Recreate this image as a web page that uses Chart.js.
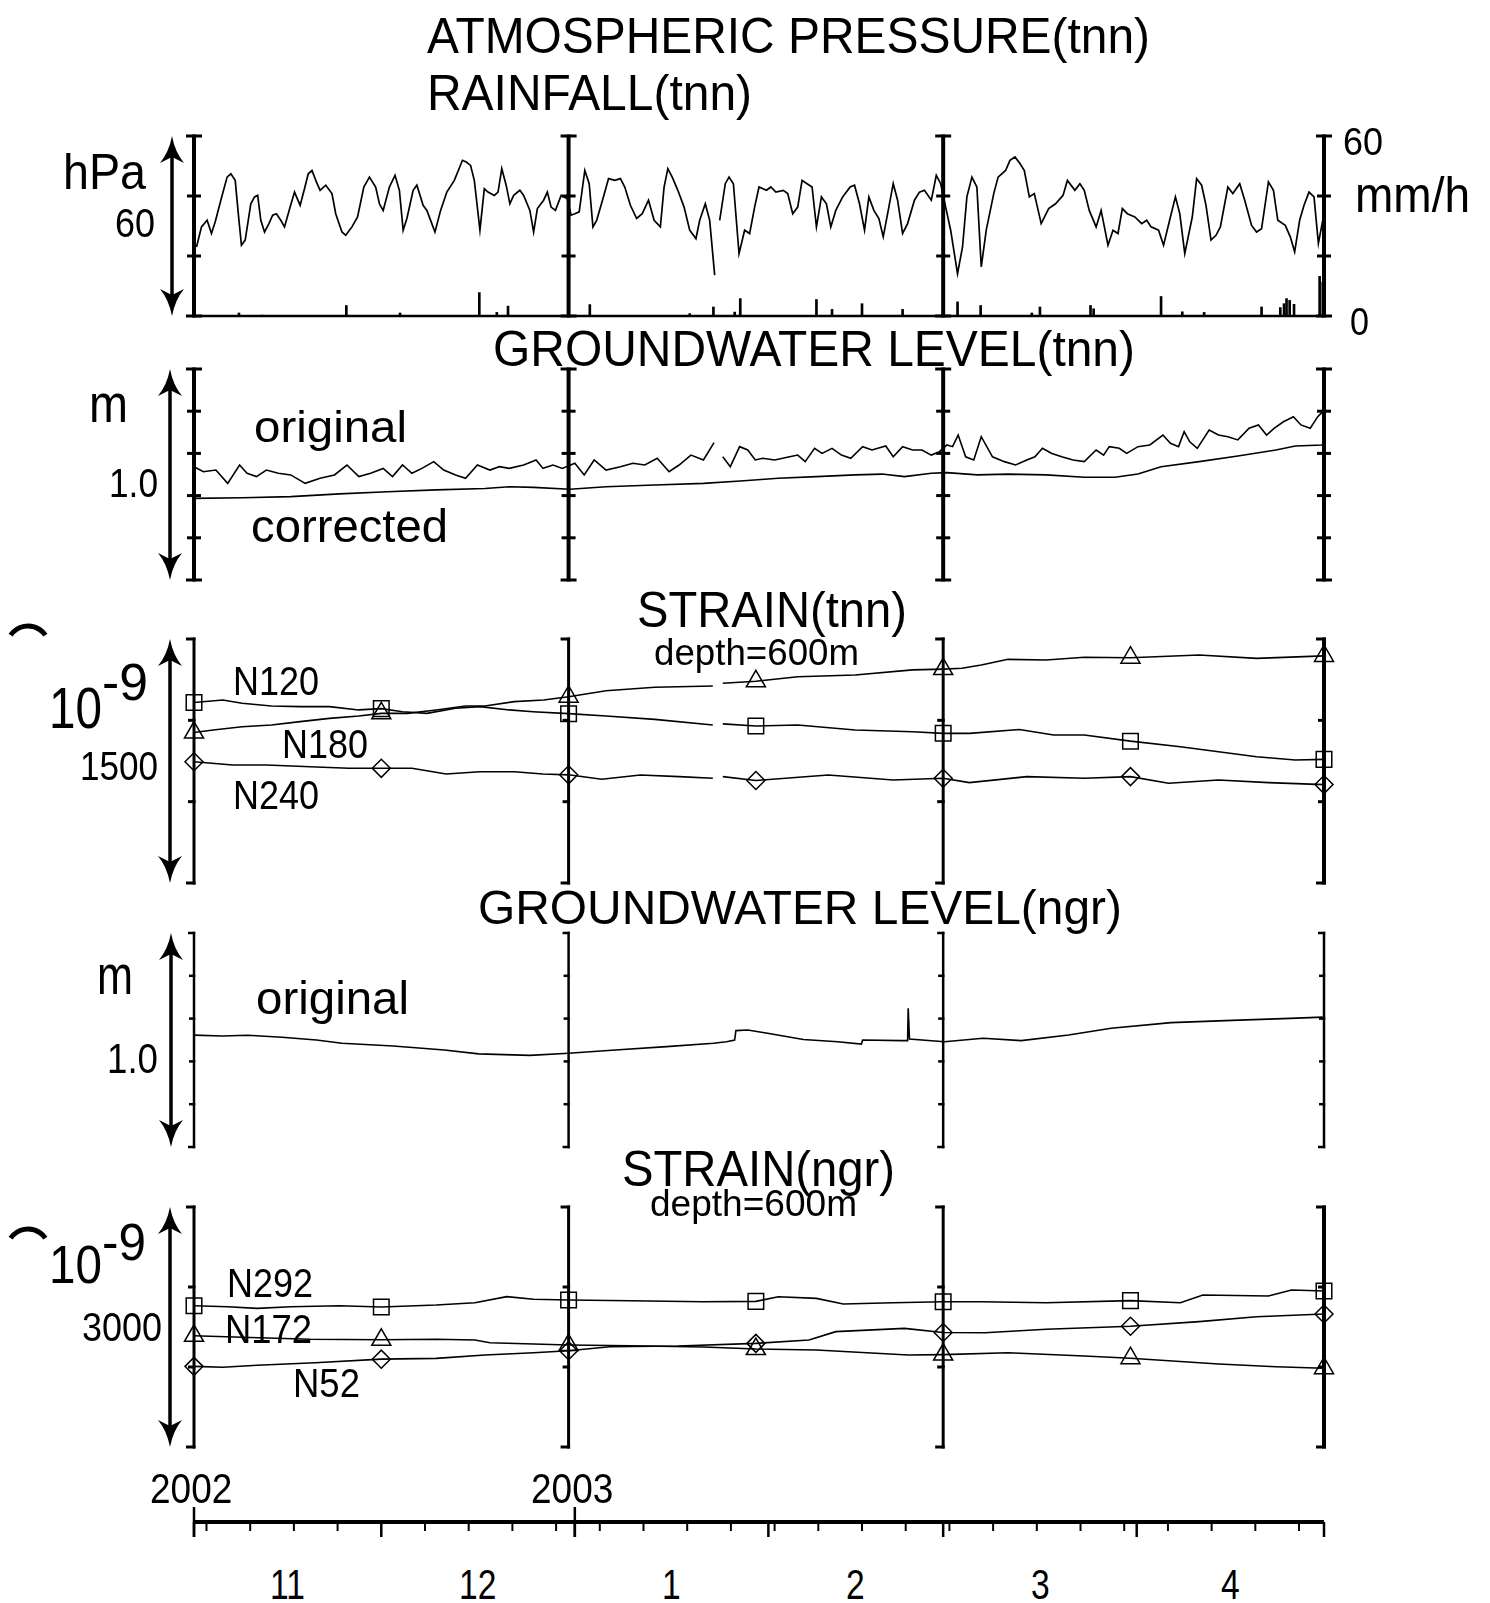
<!DOCTYPE html>
<html>
<head>
<meta charset="utf-8">
<script src="https://cdn.jsdelivr.net/npm/chart.js@4.4.1/dist/chart.umd.min.js"></script>
<style>
html, body { margin: 0; padding: 0; background: #fff; }
#fig { position: relative; width: 1490px; height: 1603px; overflow: hidden; background: #fff; }
canvas { position: absolute; left: 0; }
.t { position: absolute; white-space: nowrap; line-height: 1; font-family: "Liberation Sans", Arial, sans-serif; color: #000; transform-origin: 0 0; }
</style>
</head>
<body>
<div id="fig">
  <canvas id="c1"></canvas>
  <canvas id="c2"></canvas>
  <canvas id="c3"></canvas>
  <canvas id="c4"></canvas>
  <canvas id="c5"></canvas>
  <canvas id="cAxis"></canvas>

  <div class="t" data-x="427" data-b="53" data-fs="50" data-w="723">ATMOSPHERIC PRESSURE(tnn)</div>
  <div class="t" data-x="427" data-b="110" data-fs="50" data-w="325">RAINFALL(tnn)</div>
  <div class="t" data-x="63" data-b="189" data-fs="50" data-w="83">hPa</div>
  <div class="t" data-x="115" data-b="237" data-fs="40" data-w="40">60</div>
  <div class="t" data-x="1343" data-b="155" data-fs="38" data-w="40">60</div>
  <div class="t" data-x="1355" data-b="212" data-fs="50" data-w="115">mm/h</div>
  <div class="t" data-x="1350" data-b="335" data-fs="38" data-w="19">0</div>

  <div class="t" data-x="493" data-b="366" data-fs="50" data-w="642">GROUNDWATER LEVEL(tnn)</div>
  <div class="t" data-x="89" data-b="422" data-fs="54" data-w="39">m</div>
  <div class="t" data-x="109" data-b="498" data-fs="41" data-w="49">1.0</div>
  <div class="t" data-x="254" data-b="442" data-fs="45" data-w="153">original</div>
  <div class="t" data-x="251" data-b="542" data-fs="46" data-w="197">corrected</div>

  <div class="t" data-x="637" data-b="627" data-fs="50" data-w="270">STRAIN(tnn)</div>
  <div class="t" data-x="654" data-b="665" data-fs="36" data-w="205">depth=600m</div>
  <div class="t" data-x="49" data-b="728" data-fs="57" data-w="53">10</div>
  <div class="t" data-x="102" data-b="700" data-fs="52" data-w="46">-9</div>
  <div class="t" data-x="80" data-b="780" data-fs="40" data-w="78">1500</div>
  <div class="t" data-x="233" data-b="695" data-fs="40" data-w="86">N120</div>
  <div class="t" data-x="282" data-b="758" data-fs="40" data-w="86">N180</div>
  <div class="t" data-x="233" data-b="809" data-fs="40" data-w="86">N240</div>

  <div class="t" data-x="478" data-b="925" data-fs="49" data-w="644">GROUNDWATER LEVEL(ngr)</div>
  <div class="t" data-x="97" data-b="994" data-fs="56" data-w="36">m</div>
  <div class="t" data-x="107" data-b="1074" data-fs="42" data-w="51">1.0</div>
  <div class="t" data-x="256" data-b="1014" data-fs="46" data-w="153">original</div>

  <div class="t" data-x="622" data-b="1186" data-fs="50" data-w="273">STRAIN(ngr)</div>
  <div class="t" data-x="650" data-b="1216" data-fs="36" data-w="207">depth=600m</div>
  <div class="t" data-x="49" data-b="1283" data-fs="54" data-w="53">10</div>
  <div class="t" data-x="102" data-b="1260" data-fs="52" data-w="44">-9</div>
  <div class="t" data-x="82" data-b="1342" data-fs="41" data-w="80">3000</div>
  <div class="t" data-x="227" data-b="1297" data-fs="40" data-w="86">N292</div>
  <div class="t" data-x="225" data-b="1343" data-fs="40" data-w="87">N172</div>
  <div class="t" data-x="293" data-b="1397" data-fs="40" data-w="67">N52</div>
</div>

<script>
// time in days from 1 Nov 2002
const monthStarts = [0, 30, 61, 92, 120, 151, 181];
const monthLabels = ['11', '12', '1', '2', '3', '4'];
const yearDays = [0, 61];
const yearLabels = ['2002', '2003'];
const sundays = [2, 9, 16, 23, 37, 44, 51, 58, 65, 72, 79, 86, 93, 100, 107, 114, 121, 128, 135, 142, 149, 156, 163, 170, 177];
const panelLines = [0, 60, 120, 181];
const markDays = [0, 30, 60, 90, 120, 150, 181];

// atmospheric pressure (hPa), null = gap in record
const pDay = [0.4,1.2,2.1,2.8,3.4,4.3,5.3,5.9,6.6,7.2,7.6,8.2,9.1,9.7,10.2,10.7,11.3,12,12.6,13.2,13.9,14.5,15.4,16.1,17,17.7,18.3,18.9,19.6,20.2,
  21.1,22.1,22.7,23.7,24.3,25.3,26.2,27.2,28.1,29.1,29.7,30.3,31.3,32.2,32.9,33.5,34.1,35.1,35.7,36.7,37.3,38.2,38.6,39.5,40.5,41.7,43,43.6,44.3,44.9,
  45.8,46.5,47.1,48.1,48.7,49.3,50,50.6,51.2,52.2,52.8,53.8,54.4,55,56,56.6,57.2,57.9,58.8,59.8,60.4,61,61.7,62.6,63.3,63.9,64.5,65.5,66.4,67.4,
  68.3,69,69.9,70.9,71.8,72.8,73.7,74.7,75.3,75.9,76.6,77.5,78.5,79.4,80.4,81,81.9,82.6,83.4,83.8,84.2,85.1,85.7,86.4,87.3,88.2,89,89.8,90.5,91.7,
  92.4,93.2,94.4,95.1,95.9,96.7,97.4,98.2,99,99.7,100.5,101.3,102,102.8,103.9,105.1,105.8,106.6,107.4,108.1,108.9,109.7,110.4,111.2,112,112.7,113.5,114.3,115.4,116.2,
  117,118.1,118.9,119.6,120.4,121.2,122.3,123.1,123.8,124.6,125.4,126.1,126.9,128.1,128.8,130,130.7,131.5,132.3,133,133.8,134.6,135.7,136.9,138,139.2,139.9,141.1,141.9,142.6,
  143.4,144.5,145.3,146.4,147.2,148,148.7,149.5,150.7,151.8,152.6,153.3,154.5,155.3,156.4,157.2,157.9,158.7,159.9,160.6,161.4,162.1,162.9,163.7,164.4,165.6,166.4,167.5,168.3,169.4,
  170.2,171,172.1,172.9,173.6,174.8,175.6,176.3,177.1,177.8,178.6,179.4,180.1,180.8];
const pHpa = [1008,1014.7,1016.9,1012.5,1016.4,1023.6,1031.3,1032.4,1030.2,1016.9,1008.6,1010.3,1022.4,1024.7,1025.2,1016.9,1013,1015.8,1018.6,1019.1,1016.9,1014.7,1021.3,1026.3,1021.9,1027.4,1032.4,1033.5,1029.7,1026.9,
  1028.6,1025.8,1019.1,1013,1011.9,1014.7,1018,1028,1031.3,1028,1022.4,1020.2,1028,1031.9,1026.9,1013.6,1017.5,1026.9,1028.6,1021.9,1020.2,1015.2,1013,1020.2,1026.3,1030.2,1036.9,1036.3,1035.2,1030.2,
  1013.6,1027.4,1026.3,1025.2,1026.3,1034.1,1028.6,1022.4,1025.2,1026.9,1025.2,1020.2,1013,1020.8,1023.6,1026.3,1021.3,1020.2,1025.2,1024.1,1018.6,1019.1,1019.7,1033.5,1029.1,1014.7,1016.9,1024.1,1030.8,1030.2,
  1030.8,1028,1021.9,1017.5,1019.1,1023.6,1016.9,1014.7,1028,1034.1,1031.3,1026.9,1021.3,1013.6,1010.8,1016.9,1022.4,1016.9,998.6,null,1016.9,1029.1,1031.3,1029.1,1005.8,1013.6,1012.5,1021.3,1028,1026.9,
  1028,1026.3,1026.9,1025.8,1019.1,1021.3,1030.2,1029.1,1028,1014.7,1024.7,1022.4,1014.7,1020.2,1024.7,1028,1028.6,1022.4,1013.6,1024.7,1020.2,1017.5,1011.4,1020.2,1029.1,1023.6,1012.5,1015.8,1023.6,1026.3,
  1026.9,1023.6,1031.9,1029.1,1021.3,1013.6,999.1,1008,1024.7,1031.3,1028,1001.4,1013.6,1025.8,1031.3,1033.5,1036.9,1038,1035.8,1033.5,1024.7,1025.8,1015.8,1020.8,1022.4,1025.2,1030.2,1026.9,1029.1,1026.9,
  1020.2,1014.7,1020.2,1008.6,1013.6,1012.5,1020.8,1019.1,1018,1015.8,1016.9,1014.7,1013.6,1008.6,1018,1024.7,1019.1,1005.8,1018,1030.8,1028.6,1021.9,1010.3,1011.9,1014.7,1028,1025.8,1029.1,1023.6,1015.2,
  1013,1014.1,1029.7,1026.9,1016.9,1015.2,1011.4,1006.4,1016.9,1021.9,1026.3,1024.7,1009.2,1016.9];

// rainfall (mm/h)
const rainDay = [7.2,10.9,24.4,33,45.7,48.5,50.3,63.4,79.4,83.2,86.6,87.5,99.7,102.2,107,113.5,122.3,126,134.2,135.5,143.6,144.1,154.9,158.3,161.8,171,174,174.6,175,175.5,176.2,180.3,180.8];
const rainMm = [1,0.3,3.5,1,7.8,1.2,3.3,3.8,0.8,3,1.3,5.8,5.5,2.2,4.1,2.2,4.7,3.5,1,3,3.5,2.4,6.5,1.4,1.2,3,2.8,4.1,5.8,5.2,3.9,13.2,11.3];

// groundwater level tnn (m)
const gwOrigDay = [0,1.5,3.5,5.4,7.3,8.5,10,11.6,13.5,15.5,17.8,20.2,22.5,24.5,26.4,28.3,30.3,31.8,33.4,34.9,36.5,38.4,40,41.9,43.5,45.4,47.4,48.9,50.5,52.8,
  54.8,55.9,57.5,59,61,62.5,64.1,66,68.3,70.3,72.2,74.2,76.1,77.7,79.6,81.6,83.3,84,84.7,85.9,87.4,88.7,89.9,91.1,93,95.4,96.7,97.9,99.4,100.6,
  102.2,103.7,105.2,107.1,108.6,110.8,112,113.5,115.1,116.6,118.1,119.4,120.6,121.5,122.4,123.6,124.9,126.1,127.9,129.8,131.6,133.4,134.7,135.9,137.4,139,140.8,142.6,144.5,145.7,
  146.6,148.2,149.4,151.2,153.1,155.2,156.4,157.7,158.6,159.5,160.7,162.6,164.1,165.6,167.2,169,170.5,171.8,173,174.5,176.1,177.3,178.8,180,180.8];
const gwOrig = [0.537,0.513,0.521,0.458,0.545,0.506,0.49,0.521,0.506,0.498,0.458,0.482,0.498,0.545,0.49,0.506,0.529,0.49,0.545,0.506,0.529,0.561,0.521,0.498,0.482,0.545,0.521,0.537,0.529,0.545,
  0.569,0.529,0.545,0.529,0.553,0.498,0.569,0.521,0.537,0.553,0.545,0.577,0.513,0.545,0.592,0.569,0.651,null,0.584,0.537,0.632,0.616,0.569,0.577,0.569,0.584,0.592,0.561,0.624,0.6,
  0.624,0.592,0.577,0.632,0.616,0.635,0.584,0.632,0.616,0.616,0.592,0.608,0.64,0.632,0.687,0.584,0.569,0.679,0.584,0.561,0.545,0.569,0.584,0.624,0.6,0.584,0.569,0.561,0.616,0.592,
  0.632,0.624,0.6,0.632,0.64,0.687,0.648,0.632,0.703,0.655,0.624,0.711,0.687,0.679,0.664,0.719,0.735,0.687,0.719,0.75,0.774,0.735,0.719,0.774,0.798];
const gwCorDay = [0,7.8,15.5,23.3,31,38.8,46.6,50.5,54.4,60.2,66,73.8,81.6,87.5,93.6,99.7,105.9,110.2,113.8,118.1,120.6,125.5,130.4,136.5,142.6,147.5,151.2,154.9,161,167.2,173.3,176.4,180.7,181];
const gwCor = [0.387,0.39,0.395,0.408,0.418,0.427,0.434,0.442,0.439,0.43,0.442,0.45,0.458,0.469,0.482,0.49,0.498,0.502,0.49,0.506,0.509,0.498,0.502,0.498,0.487,0.487,0.502,0.537,0.561,0.588,0.616,0.635,0.64,0.655];

// strain tnn (1e-9)
const n120Day = [0,4.6,7.7,12.4,17,21.7,26.4,30,33.4,37.3,41.9,45.8,50.5,54.3,60,66,73.8,83.1,83.9,84.7,90,96.7,105.9,115.1,120,124.2,132.2,137.7,142.6,150,158,164.1,170.2,176.4,181];
const n120 = [1110,1125,1105,1088,1084,1084,1064,1072,1053,1043,1074,1084,1064,1053,1041,1027,1006,971,null,978,965,971,941,930,920,920,944,910,910,872,838,807,776,756,760];
const n180Day = [0,3.1,7.7,12.4,17,21.7,26.4,30,34.2,38.8,43.5,46.6,51.3,56,60,66,73.8,83.1,83.9,84.7,90,96.7,105.9,115.1,120,123,126.1,130.4,136.5,142.6,150,161,170.2,181];
const n180 = [925,941,961,971,992,1012,1027,1043,1043,1064,1088,1088,1115,1125,1145,1182,1203,1211,null,1228,1240,1268,1279,1310,1315,1320,1340,1375,1371,1388,1385,1402,1381,1396];
const n240Day = [0,6.2,11.6,18.6,24.8,30,34.9,40.4,45.8,51.3,55.9,60,65.3,71.5,77.7,83.1,83.9,84.7,90,101.6,112,120,124.2,133.4,142.6,150,156.1,164.1,172.1,181];
const n240 = [745,725,725,715,705,705,705,670,684,684,670,665,638,664,654,644,null,654,630,664,633,644,617,654,644,654,613,633,617,605];

// groundwater level ngr (m)
const gwNgrDay = [0,4.5,8.6,14.1,19.6,23.7,31.9,40.1,45.6,53.8,60,67.5,75.7,83.2,85.3,86.6,86.8,88.7,92.1,97.6,103.1,106.9,107.1,113.4,114.3,114.4,114.6,120.2,126.4,132.5,140.1,146.9,156.5,167.4,175.6,180.8];
const gwNgr = [0.523,0.519,0.522,0.513,0.5,0.485,0.472,0.453,0.435,0.428,0.438,0.453,0.469,0.485,0.492,0.5,0.544,0.547,0.53,0.502,0.492,0.481,0.5,0.497,0.497,0.648,0.505,0.492,0.508,0.497,0.523,0.555,0.581,0.593,0.601,0.607];

// strain ngr (1e-9)
const n292Day = [0,5.4,10.1,15.5,23.3,30,38.8,45,50.1,54.4,60,69.9,81.6,90,93.6,99.7,104,112,120,126.1,136.5,150,158,161.6,172.1,175.8,181];
const n292 = [1766,1754,1733,1754,1766,1750,1775,1804,1879,1846,1838,1829,1816,1820,1879,1858,1788,1804,1815,1816,1804,1830,1804,1900,1888,1963,1950];
const n172Day = [0,7.7,18.6,30,38.8,45,47.4,60,69.9,81.6,90,99.7,114.4,120,130.4,142.6,150,164.1,173.3,181];
const n172 = [1390,1371,1346,1340,1346,1338,1304,1275,1265,1250,1225,1213,1150,1155,1179,1138,1110,1038,1004,985];
const n52Day = [0,4.6,10.1,19.4,30,38.8,46.6,54.4,60,66.6,77.5,90,98.5,102.8,113.8,120,126.7,136.5,150,161,170.2,181];
const n52 = [1008,996,1021,1054,1098,1108,1150,1179,1204,1254,1263,1295,1338,1442,1483,1432,1429,1471,1510,1567,1629,1663];

function pts(days, vals) {
  return days.map(function(d, i) { return { x: d, y: vals[i] }; });
}

function lineSet(days, vals, style, r) {
  return {
    data: pts(days, vals),
    borderColor: '#000',
    borderWidth: 1.6,
    tension: 0,
    clip: false,
    pointStyle: style || 'circle',
    pointRadius: function(ctx) {
      if (!style || !ctx.raw) return 0;
      return markDays.indexOf(ctx.raw.x) >= 0 ? r : 0;
    },
    pointBackgroundColor: 'rgba(0,0,0,0)',
    pointBorderColor: '#000',
    pointBorderWidth: 1.5
  };
}

// frame: dividers with ticks, scale arrow on the left
function makeFrame(cfg) {
  return {
    id: 'frame',
    beforeDatasetsDraw: function(chart) {
      var ctx = chart.ctx, x = chart.scales.x, y = chart.scales.y;
      var lv = cfg.levels, last = lv.length - 1;
      var top = y.getPixelForValue(lv[last]), bot = y.getPixelForValue(lv[0]);
      ctx.save();
      ctx.strokeStyle = '#000';
      ctx.fillStyle = '#000';
      panelLines.forEach(function(d, k) {
        var px = x.getPixelForValue(d);
        var lw = (k === panelLines.length - 1 && cfg.rightLw) ? cfg.rightLw : cfg.lw;
        ctx.lineWidth = lw;
        ctx.beginPath();
        ctx.moveTo(px, top - cfg.tlw / 2);
        ctx.lineTo(px, bot + cfg.tlw / 2);
        ctx.stroke();
        ctx.lineWidth = cfg.tlw;
        lv.forEach(function(v, i) {
          var py = y.getPixelForValue(v);
          var len = (i === 0 || i === last) ? cfg.cap : cfg.tick;
          ctx.beginPath();
          if (cfg.style === 'cross') {
            ctx.moveTo(px - len, py);
            ctx.lineTo(px + len, py);
          } else {
            ctx.moveTo(px - len, py);
            ctx.lineTo(px + lw / 2, py);
          }
          ctx.stroke();
        });
      });
      if (cfg.baseline) {
        ctx.lineWidth = 2.5;
        ctx.beginPath();
        ctx.moveTo(x.getPixelForValue(0), bot);
        ctx.lineTo(x.getPixelForValue(181), bot);
        ctx.stroke();
      }
      // double arrow
      var ax = cfg.arrowX, hh = 27, hw = 12;
      ctx.lineWidth = 3.5;
      ctx.beginPath();
      ctx.moveTo(ax, top + 15);
      ctx.lineTo(ax, bot - 15);
      ctx.stroke();
      ctx.beginPath();
      ctx.moveTo(ax, top);
      ctx.quadraticCurveTo(ax - 3, top + 16, ax - hw, top + hh);
      ctx.lineTo(ax, top + hh - 6);
      ctx.lineTo(ax + hw, top + hh);
      ctx.quadraticCurveTo(ax + 3, top + 16, ax, top);
      ctx.fill();
      ctx.beginPath();
      ctx.moveTo(ax, bot);
      ctx.quadraticCurveTo(ax - 3, bot - 16, ax - hw, bot - hh);
      ctx.lineTo(ax, bot - hh + 6);
      ctx.lineTo(ax + hw, bot - hh);
      ctx.quadraticCurveTo(ax + 3, bot - 16, ax, bot);
      ctx.fill();
      if (cfg.arcDy !== undefined) {
        var cy = top + cfg.arcDy + 21;
        ctx.lineWidth = 5;
        ctx.beginPath();
        ctx.arc(28, cy, 21, Math.PI * 1.19, Math.PI * 1.81);
        ctx.stroke();
      }
      ctx.restore();
    }
  };
}

function panel(id, top, bottom, ymin, ymax, datasets, frame, extra) {
  var cv = document.getElementById(id);
  var h = bottom - top + 60;
  cv.width = 1490;
  cv.height = h;
  cv.style.width = '1490px';
  cv.style.height = h + 'px';
  cv.style.top = (top - 30) + 'px';
  var scales = {
    x: { type: 'linear', min: 0, max: 181, display: false, offset: false },
    y: { type: 'linear', min: ymin, max: ymax, display: false }
  };
  if (extra) Object.assign(scales, extra);
  return new Chart(cv, {
    type: 'line',
    data: { datasets: datasets },
    options: {
      responsive: false,
      animation: false,
      devicePixelRatio: 1,
      events: [],
      layout: { padding: { left: 194, right: 166, top: 30, bottom: 30 } },
      scales: scales,
      plugins: { legend: { display: false }, tooltip: { enabled: false } }
    },
    plugins: [makeFrame(frame)]
  });
}

// panel 1: pressure + rainfall
var rainSet = {
  type: 'bar',
  data: pts(rainDay, rainMm),
  yAxisID: 'y2',
  backgroundColor: '#000',
  borderWidth: 0,
  barThickness: 2
};
var pSet = lineSet(pDay, pHpa);
pSet.borderWidth = 1.7;
panel('c1', 135.5, 316, 985, 1045, [pSet, rainSet],
  { levels: [985, 1005, 1025, 1045], style: 'cross', lw: 4, tlw: 3, tick: 7, cap: 8, arrowX: 172, baseline: true },
  { y2: { type: 'linear', min: 0, max: 60, display: false } });

// panel 2: groundwater tnn
panel('c2', 369, 580, 0, 1, [lineSet(gwOrigDay, gwOrig), lineSet(gwCorDay, gwCor)],
  { levels: [0, 0.2, 0.4, 0.6, 0.8, 1], style: 'cross', lw: 4, tlw: 3, tick: 7, cap: 8, arrowX: 170 });

// panel 3: strain tnn
panel('c3', 639, 883, 0, 1500,
  [lineSet(n120Day, n120, 'rect', 11), lineSet(n180Day, n180, 'triangle', 11), lineSet(n240Day, n240, 'rectRot', 9)],
  { levels: [0, 500, 1000, 1500], style: 'bracket', lw: 3, rightLw: 4, tlw: 3, tick: 6, cap: 8, arrowX: 170, arcDy: -13 });

// panel 4: groundwater ngr
panel('c4', 933, 1147, 0, 1, [lineSet(gwNgrDay, gwNgr)],
  { levels: [0, 0.2, 0.4, 0.6, 0.8, 1], style: 'bracket', lw: 2.5, tlw: 2.5, tick: 5, cap: 6, arrowX: 171 });

// panel 5: strain ngr
panel('c5', 1207, 1447, 0, 3000,
  [lineSet(n292Day, n292, 'rect', 11), lineSet(n172Day, n172, 'triangle', 11), lineSet(n52Day, n52, 'rectRot', 9)],
  { levels: [0, 1000, 2000, 3000], style: 'bracket', lw: 3, rightLw: 4, tlw: 3, tick: 6, cap: 8, arrowX: 170, arcDy: 22 });

// time axis
var axisPlugin = {
  id: 'timeAxis',
  afterDraw: function(chart) {
    var ctx = chart.ctx, x = chart.scales.x, y0 = chart.chartArea.top;
    ctx.save();
    ctx.strokeStyle = '#000';
    ctx.lineWidth = 4;
    ctx.beginPath();
    ctx.moveTo(x.getPixelForValue(0), y0);
    ctx.lineTo(x.getPixelForValue(181), y0);
    ctx.stroke();
    ctx.lineWidth = 2;
    sundays.forEach(function(d) {
      var px = x.getPixelForValue(d);
      ctx.beginPath(); ctx.moveTo(px, y0); ctx.lineTo(px, y0 + 9); ctx.stroke();
    });
    ctx.lineWidth = 2.5;
    monthStarts.forEach(function(d) {
      var px = x.getPixelForValue(d);
      ctx.beginPath(); ctx.moveTo(px, y0); ctx.lineTo(px, y0 + 15); ctx.stroke();
    });
    yearDays.forEach(function(d) {
      var px = x.getPixelForValue(d);
      ctx.beginPath(); ctx.moveTo(px, y0 - 15); ctx.lineTo(px, y0 + 15); ctx.stroke();
    });
    ctx.restore();
  }
};
var cva = document.getElementById('cAxis');
cva.width = 1490; cva.height = 60;
cva.style.width = '1490px'; cva.style.height = '60px'; cva.style.top = '1490px';
var axisChart = new Chart(cva, {
  type: 'line',
  data: { datasets: [{ data: [] }] },
  options: {
    responsive: false, animation: false, devicePixelRatio: 1, events: [],
    layout: { padding: { left: 194, right: 166, top: 32, bottom: 10 } },
    scales: {
      x: { type: 'linear', min: 0, max: 181, display: false },
      y: { display: false }
    },
    plugins: { legend: { display: false }, tooltip: { enabled: false } }
  },
  plugins: [axisPlugin]
});

// axis labels placed from the x scale
var fig = document.getElementById('fig');
function addLabel(text, day, base, fs, sx) {
  var el = document.createElement('div');
  el.className = 't';
  el.textContent = text;
  el.dataset.cx = axisChart.scales.x.getPixelForValue(day);
  el.dataset.b = base;
  el.dataset.fs = fs;
  el.dataset.sx = sx;
  fig.appendChild(el);
}
yearLabels.forEach(function(s, i) { addLabel(s, yearDays[i] - 0.5, 1503, 43, 0.86); });
monthLabels.forEach(function(s, i) { addLabel(s, (monthStarts[i] + monthStarts[i + 1]) / 2, 1600, 42, 0.8); });

// place and condense texts
document.querySelectorAll('.t').forEach(function(el) {
  var fs = +el.dataset.fs;
  el.style.fontSize = fs + 'px';
  el.style.left = '0px';
  el.style.top = (el.dataset.b - 0.847 * fs) + 'px';
  var w = el.getBoundingClientRect().width;
  var sx = el.dataset.w ? el.dataset.w / w : +el.dataset.sx;
  var left = el.dataset.cx !== undefined ? el.dataset.cx - w * sx / 2 : +el.dataset.x;
  el.style.left = left + 'px';
  el.style.transform = 'scaleX(' + sx + ')';
});
</script>
</body>
</html>
